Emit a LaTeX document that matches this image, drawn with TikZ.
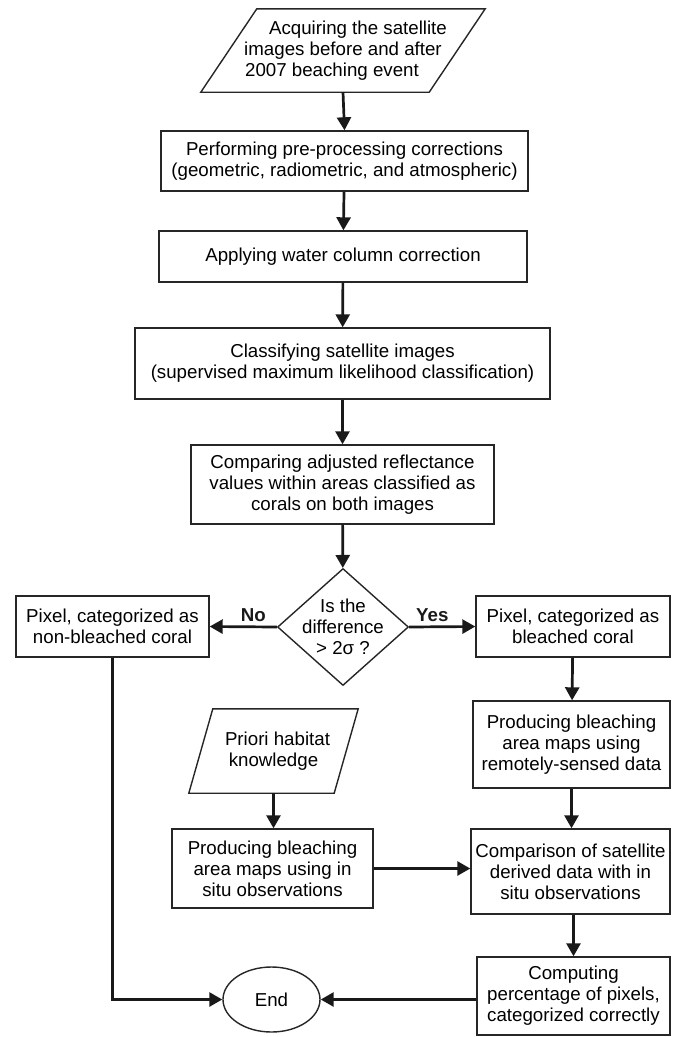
\documentclass[tikz,border=0pt]{standalone}
\usepackage{fontspec}
\setmainfont{Liberation Sans}
\usepackage{tikz}
\usetikzlibrary{calc}
\usetikzlibrary{shapes.geometric}
\usetikzlibrary{arrows.meta}
\newcommand{\ioshape}[2]{\draw[thin box] ($(#1.north west)+(#2,0)$) -- (#1.north east) -- ($(#1.south east)-(#2,0)$) -- (#1.south west) -- cycle;}
\tikzset{
  thin box/.style={draw=black!85, line width=1.4pt},
  stepbox/.style={thin box, rectangle, align=center, inner sep=2pt, font=\fontsize{18.7}{21}\selectfont},
  iobox/.style={rectangle, draw=none, align=center, inner sep=2pt, font=\fontsize{18.7}{21}\selectfont},
  flow/.style={line width=2.7pt, black!90, -{Triangle[length=13pt,width=14pt]}},
  answer/.style={font=\fontsize{18.7}{21}\selectfont\bfseries}
}
\begin{document}
\begin{tikzpicture}[x=1pt,y=-1pt]
        \useasboundingbox (0,0) rectangle (673,1037);
        % main column
        \node[iobox, minimum width=284, minimum height=83] (acq) at (343,50.5) {\hspace*{30pt}Acquiring the satellite\\images before and after\\2007 beaching event\hspace*{22pt}};
        \ioshape{acq}{56}
        \node[stepbox, minimum width=367, minimum height=60] (pre) at (344.5,161) {Performing pre-processing corrections\\(geometric, radiometric, and atmospheric)};
        \node[stepbox, minimum width=368, minimum height=51] (wcc) at (343,256.5) {Applying water column correction};
        \node[stepbox, minimum width=415, minimum height=71] (cls) at (342.5,363.5) {Classifying satellite images\\(supervised maximum likelihood classification)};
        \node[stepbox, minimum width=303, minimum height=79] (cmp) at (342.5,484.5) {Comparing adjusted reflectance\\values within areas classified as\\corals on both images};
        \node[thin box, diamond, minimum width=131, minimum height=117, inner sep=-8pt, align=center, font=\fontsize{18.7}{21}\selectfont] (dec) at (343,627) {Is the\\difference\\> 2σ ?};
        % branches
        \node[stepbox, minimum width=193, minimum height=61] (nob) at (112.5,626.5) {Pixel, categorized as\\non-bleached coral};
        \node[stepbox, minimum width=194, minimum height=61] (ble) at (573,626.5) {Pixel, categorized as\\bleached coral};
        \node[stepbox, minimum width=197, minimum height=87] (rmt) at (571.5,744.5) {Producing bleaching\\area maps using\\remotely-sensed data};
        \node[iobox, minimum width=169, minimum height=84] (pri) at (273.5,751) {\hspace*{8pt}Priori habitat\\knowledge};
        \ioshape{pri}{24}
        \node[stepbox, minimum width=201, minimum height=79] (ins) at (272.5,868.5) {Producing bleaching\\area maps using in\\situ observations};
        \node[stepbox, minimum width=199, minimum height=85] (cps) at (570.5,871.5) {Comparison of satellite\\derived data with in\\situ observations};
        \node[stepbox, minimum width=193, minimum height=78] (cpt) at (573.5,996) {Computing\\percentage of pixels,\\categorized correctly};
        \node[thin box, ellipse, minimum width=97, minimum height=65, inner sep=0pt, font=\fontsize{18.7}{21}\selectfont] (end) at (271.5,999.5) {End};
        % arrows
        \draw[flow] (acq.south) -- (pre.north);
        \draw[flow] (pre) -- (wcc);
        \draw[flow] (wcc) -- (cls);
        \draw[flow] (cls) -- (cmp);
        \draw[flow] (cmp) -- (dec);
        \draw[flow] (dec.west) -- node[answer, pos=0.35, above] {No} (nob.east);
        \draw[flow] (dec.east) -- node[answer, pos=0.35, above] {Yes} (ble.west);
        \draw[flow] (ble) -- (rmt);
        \draw[flow] (rmt.south) -- (rmt.south |- cps.north);
        \draw[flow] (pri.south) -- (pri.south |- ins.north);
        \draw[flow] (ins.east) -- (ins.east -| cps.west);
        \draw[flow] (cps.south -| cpt) -- (cpt.north);
        \draw[flow] (nob.south) |- (end.west);
        \draw[flow] (end.east -| cpt.west) -- (end.east);
\end{tikzpicture}
\end{document}
